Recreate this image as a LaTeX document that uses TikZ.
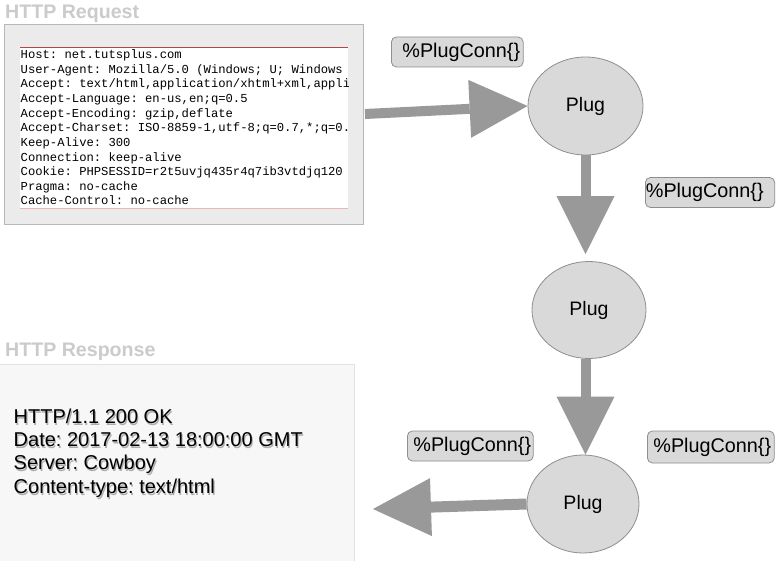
\documentclass[tikz,border=0pt]{standalone}
\usepackage{fontspec}
\setmainfont{Liberation Sans}
\newfontfamily\reqmono{Liberation Mono}
\usetikzlibrary{shapes.geometric,arrows.meta,calc}
\frenchspacing
\definecolor{titlegray}{HTML}{CBCBCB}
\definecolor{reqfill}{HTML}{EBEBEB}
\definecolor{reqborder}{HTML}{B8B8B8}
\definecolor{redline}{HTML}{B04848}
\definecolor{pinkline}{HTML}{E8B8B8}
\definecolor{resfill}{HTML}{F7F7F7}
\definecolor{resborder}{HTML}{E2E2E2}
\definecolor{plugfill}{HTML}{D9D9D9}
\definecolor{pluggray}{HTML}{8E8E8E}
\definecolor{arrowgray}{HTML}{999999}
\tikzset{
  titletext/.style={font=\bfseries\fontsize{19.6}{19.6}\selectfont, text=titlegray, inner sep=0pt, anchor=base west},
  reqline/.style={font=\reqmono\frenchspacing\fontsize{12.2}{12.2}\selectfont, inner sep=0pt, anchor=base west, text=black},
  resline/.style={font=\frenchspacing\fontsize{20}{20}\selectfont, inner sep=0pt, anchor=base west},
  resshadow/.style={resline, text=black, text opacity=0.3},
  plugnode/.style={ellipse, draw=pluggray, fill=plugfill, line width=0.8pt, inner sep=0pt, font=\fontsize{19.5}{19.5}\selectfont},
  connbox/.style={rectangle, rounded corners=5pt, draw=pluggray, fill=plugfill, line width=0.8pt, inner xsep=0pt, inner ysep=0pt, minimum height=30pt, font=\fontsize{19.8}{19.8}\selectfont, anchor=west},
  bigarrow/.style={draw=arrowgray, line width=10pt, -{Triangle[length=58pt,width=58pt,line width=0pt]}},
}
\begin{document}
\begin{tikzpicture}[x=1pt,y=-1pt]
\useasboundingbox (0,0) rectangle (776,561);
\fill[white] (0,0) rectangle (776,561);

% HTTP Request
\node[titletext] (reqtitle) at (5,18.5) {HTTP Request};
\node[draw=reqborder, fill=reqfill, line width=0.8pt, minimum width=359pt, minimum height=200pt, inner sep=0pt, anchor=north west] (reqbox) at (4,24) {};
\node[fill=white, minimum width=328pt, minimum height=160pt, inner sep=0pt, anchor=north west] (reqinner) at (20,48) {};
\draw[redline, line width=1pt] (reqinner.north west) -- (reqinner.north east);
\draw[pinkline, line width=0.8pt] (reqinner.south west) -- (reqinner.south east);
\begin{scope}
\clip (20,48) rectangle (348,209);
\foreach \t [count=\i from 0] in {
  {Host: net.tutsplus.com},
  {User-Agent: Mozilla/5.0 (Windows; U; Windows},
  {Accept: text/html,application/xhtml+xml,appli},
  {Accept-Language: en-us,en;q=0.5},
  {Accept-Encoding: gzip,deflate},
  {Accept-Charset: ISO-8859-1,utf-8;q=0.7,*;q=0.},
  {Keep-Alive: 300},
  {Connection: keep-alive},
  {Cookie: PHPSESSID=r2t5uvjq435r4q7ib3vtdjq120},
  {Pragma: no-cache},
  {Cache-Control: no-cache}}
  \node[reqline] (rq\i) at (20.5,58.6+14.64*\i) {\t};
\end{scope}

% HTTP Response
\node[titletext] (restitle) at (5,356) {HTTP Response};
\node[draw=resborder, fill=resfill, line width=0.8pt, minimum width=355pt, minimum height=200pt, inner sep=0pt, anchor=north west] (resbox) at (-1,364) {};
\foreach \t [count=\i from 0] in {
  {HTTP/1.1 200 OK},
  {Date: 2017-02-13 18:00:00 GMT},
  {Server: Cowboy},
  {Content-type: text/html}}
{
  \node[resshadow] (rsa\i) at (14.6,425+23.4*\i) {\t};
  \node[resline] (rs\i) at (13.5,423+23.4*\i) {\t};
}

% Plugs
\node[plugnode, minimum width=115pt, minimum height=98pt] (plug1) at (585.5,106) {Plug};
\node[plugnode, minimum width=114pt, minimum height=97pt] (plug2) at (589,310) {Plug};
\node[plugnode, minimum width=112pt, minimum height=98pt] (plug3) at (583,504) {Plug};

% Labels
\node[connbox] (conn1) at (391,52) {\hspace*{11pt}\%PlugConn\{\}\hspace*{3pt}};
\node[connbox] (conn2) at (645,192.5) {\hspace*{0.5pt}\%PlugConn\{\}\hspace*{11pt}};
\node[connbox] (conn3) at (407,446) {\hspace*{6pt}\%PlugConn\{\}\hspace*{2pt}};
\node[connbox, minimum height=32pt] (conn4) at (647,447) {\hspace*{6pt}\%PlugConn\{\}\hspace*{3pt}};

% Arrows
\coordinate (a1s) at (365,114);
\draw[bigarrow] (a1s) -- (plug1.west);
\draw[bigarrow, shorten >=7pt] (plug1.south) -- (plug1.south |- plug2.north);
\draw[bigarrow] (plug1.south |- plug2.south) -- (plug1.south |- plug3.north);
\coordinate (a4e) at (373,509);
\draw[bigarrow, line width=11pt] (plug3.west) -- (a4e);
\end{tikzpicture}
\end{document}
